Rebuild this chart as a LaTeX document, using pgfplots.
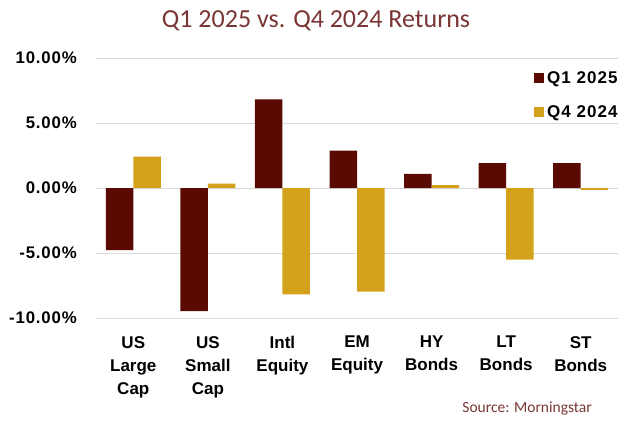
\documentclass[border=0pt]{standalone}
\usepackage{pgfplots}
\pgfplotsset{compat=1.18}
\usepackage{fontspec}
\setmainfont{Liberation Sans}
\newfontfamily\titlefont{Carlito}
\definecolor{qone}{HTML}{5A0A02}
\definecolor{qfour}{HTML}{D4A11B}
\definecolor{titlered}{HTML}{7A3535}
\definecolor{gridgrey}{HTML}{D9D9D9}
\begin{document}
\begin{tikzpicture}
\begin{axis}[
  at={(0pt,0pt)}, anchor=south west,
  scale only axis, width=522pt, height=260pt,
  xmin=-0.5, xmax=6.5, ymin=-10, ymax=10,
  axis line style={draw=none},
  ybar=0pt, bar width=27.5pt,
  xtick={0,...,6},
  xticklabels={US\\Large\\Cap, US\\Small\\Cap, Intl\\Equity, EM\\Equity, HY\\Bonds, LT\\Bonds, ST\\Bonds},
  xticklabel style={font=\fontsize{17}{23}\selectfont\bfseries, align=center, anchor=north, inner sep=0pt, yshift=-18pt},
  ytick={-10,-5,0,5,10},
  yticklabels={-10.00\%, -5.00\%, 0.00\%, 5.00\%, 10.00\%},
  yticklabel style={font=\fontsize{16.8}{19}\selectfont\bfseries\addfontfeature{LetterSpace=5}, anchor=east, inner sep=0pt, xshift=-19pt},
  major tick length=0pt,
  ymajorgrids, grid style={gridgrey, line width=1pt},
  legend style={at={(rel axis cs:0.839,0.95)}, anchor=north west, draw=none, fill=none,
    font=\fontsize{17}{20}\selectfont\bfseries\addfontfeature{LetterSpace=6}, row sep=21pt, inner sep=0pt,
    nodes={inner xsep=3pt, inner ysep=0pt}},
  legend cell align=left,
  legend image code/.code={\fill[#1] (0pt,-5pt) rectangle (10pt,5pt);},
]
\addplot[fill=qone, draw=none] coordinates {(0,-4.77) (1,-9.48) (2,6.82) (3,2.88) (4,1.08) (5,1.92) (6,1.92)};
\addplot[fill=qfour, draw=none] coordinates {(0,2.41) (1,0.34) (2,-8.18) (3,-7.97) (4,0.23) (5,-5.51) (6,-0.15)};
\legend{Q1 2025, Q4 2024}
\end{axis}
\node[font=\titlefont\fontsize{26}{28}\selectfont, text=titlered, anchor=center] at (220pt,297pt) {Q1 2025 vs. Q4 2024 Returns};
\node[font=\titlefont\fontsize{15.5}{18}\selectfont, text=titlered, anchor=east, inner sep=0pt] at (496pt,-90pt) {Source: Morningstar};
\path[use as bounding box] (-96pt,-105pt) rectangle (530pt,318pt);
\end{tikzpicture}
\end{document}
